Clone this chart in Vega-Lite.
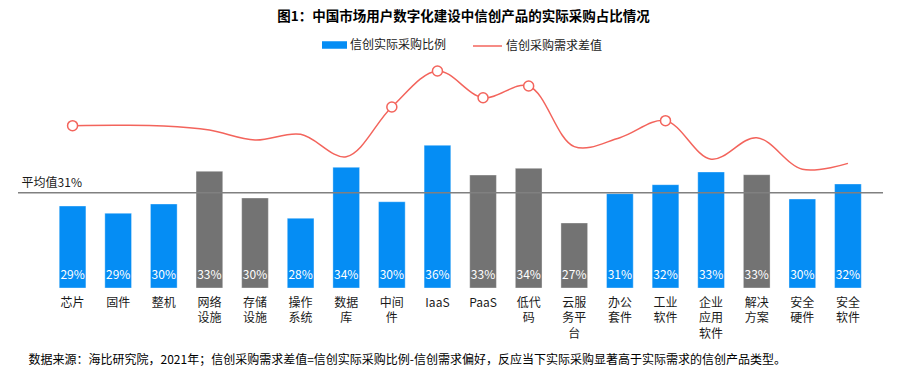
{
  "$schema": "https://vega.github.io/schema/vega-lite/v6.json",
  "width": 865,
  "height": 228,
  "autosize": {"type": "none"},
  "padding": {"left": 18, "top": 60, "right": 27, "bottom": 86},
  "background": "white",
  "config": {
    "font": "Noto Sans CJK SC",
    "view": {"stroke": null},
    "legend": {"labelFontSize": 12, "labelColor": "#1a1a1a", "labelFont": "Noto Sans CJK SC", "title": null}
  },
  "title": {
    "text": "图1：中国市场用户数字化建设中信创产品的实际采购占比情况",
    "fontSize": 13.5,
    "fontWeight": "bold",
    "color": "#000000",
    "anchor": "middle",
    "dx": 13,
    "offset": 7
  },
  "datasets": {
    "rows": [
      {"category": "芯片", "value": 29.37, "label": "29%", "group": "a", "diff": 0.68, "marked": true},
      {"category": "固件", "value": 28.54, "label": "29%", "group": "a", "diff": 0.70, "marked": false},
      {"category": "整机", "value": 29.60, "label": "30%", "group": "a", "diff": 0.66, "marked": false},
      {"category": "网络设施", "value": 33.34, "label": "33%", "group": "b", "diff": 0.39, "marked": false},
      {"category": "存储设施", "value": 30.29, "label": "30%", "group": "b", "diff": -0.26, "marked": false},
      {"category": "操作系统", "value": 27.97, "label": "28%", "group": "a", "diff": 0.11, "marked": false},
      {"category": "数据库", "value": 33.79, "label": "34%", "group": "a", "diff": -1.36, "marked": false},
      {"category": "中间件", "value": 29.86, "label": "30%", "group": "a", "diff": 1.91, "marked": true},
      {"category": "IaaS", "value": 36.31, "label": "36%", "group": "a", "diff": 4.28, "marked": true},
      {"category": "PaaS", "value": 32.91, "label": "33%", "group": "b", "diff": 2.52, "marked": true},
      {"category": "低代码", "value": 33.68, "label": "34%", "group": "b", "diff": 3.29, "marked": true},
      {"category": "云服务平台", "value": 27.43, "label": "27%", "group": "b", "diff": -0.70, "marked": false},
      {"category": "办公套件", "value": 30.78, "label": "31%", "group": "a", "diff": -0.11, "marked": false},
      {"category": "工业软件", "value": 31.81, "label": "32%", "group": "a", "diff": 1.01, "marked": true},
      {"category": "企业应用软件", "value": 33.26, "label": "33%", "group": "a", "diff": -1.53, "marked": false},
      {"category": "解决方案", "value": 32.95, "label": "33%", "group": "b", "diff": -0.11, "marked": false},
      {"category": "安全硬件", "value": 30.17, "label": "30%", "group": "a", "diff": -2.19, "marked": false},
      {"category": "安全软件", "value": 31.89, "label": "32%", "group": "a", "diff": -1.80, "marked": false}
    ]
  },
  "layer": [
    {
      "data": {"name": "rows"},
      "encoding": {
        "x": {
          "field": "category",
          "type": "nominal",
          "sort": null,
          "scale": {
            "domain": ["芯片", "固件", "整机", "网络设施", "存储设施", "操作系统", "数据库", "中间件", "IaaS", "PaaS", "低代码", "云服务平台", "办公套件", "工业软件", "企业应用软件", "解决方案", "安全硬件", "安全软件"],
            "paddingInner": 0.415,
            "paddingOuter": 0.69,
            "align": 0.655
          },
          "axis": {
            "title": "数据来源：海比研究院，2021年；信创采购需求差值=信创实际采购比例-信创需求偏好，反应当下实际采购显著高于实际需求的信创产品类型。",
            "titleFontSize": 12,
            "titleFontWeight": "normal",
            "titleColor": "#000000",
            "titleFont": "Noto Sans CJK SC",
            "titleAnchor": "start",
            "titleAlign": "left",
            "titleBaseline": "alphabetic",
            "titleX": 10,
            "titleY": 75,
            "domain": false,
            "ticks": false,
            "labelAngle": 0,
            "labelFontSize": 12,
            "labelColor": "#1a1a1a",
            "labelPadding": 9,
            "labelLineHeight": 15.5,
            "labelExpr": "test(/^[A-Za-z]+$/, datum.label) || length(datum.label) <= 2 ? datum.label : length(datum.label) <= 4 ? [substring(datum.label,0,2), substring(datum.label,2,4)] : [substring(datum.label,0,2), substring(datum.label,2,4), substring(datum.label,4,6)]"
          }
        }
      },
      "layer": [
        {
          "mark": {"type": "bar", "stroke": "white", "strokeOpacity": 0.35, "strokeWidth": 1},
          "encoding": {
            "y": {"field": "value", "type": "quantitative", "scale": {"domain": [20, 46.06], "nice": false, "zero": false}, "axis": null},
            "y2": {"datum": 20},
            "fill": {
              "field": "group",
              "type": "nominal",
              "scale": {"domain": ["a", "b"], "range": ["#058df4", "#737373"]},
              "legend": {
                "values": ["a"],
                "labelExpr": "'信创实际采购比例'",
                "orient": "none",
                "legendX": 304,
                "legendY": -27.5,
                "symbolType": "M-1,-0.3H1V0.3H-1Z",
                "symbolSize": 625,
                "symbolStrokeWidth": 0,
                "labelOffset": 3
              }
            }
          }
        },
        {
          "mark": {"type": "text", "color": "white", "fontSize": 12, "baseline": "alphabetic", "dy": -9},
          "encoding": {
            "y": {"datum": 20, "type": "quantitative"},
            "text": {"field": "label", "type": "nominal"}
          }
        }
      ]
    },
    {
      "data": {"values": [{"avg": 30.89, "text": "平均值31%"}]},
      "encoding": {
        "y": {"field": "avg", "type": "quantitative", "scale": {"domain": [20, 46.06], "nice": false, "zero": false}, "axis": null}
      },
      "layer": [
        {"mark": {"type": "rule", "color": "#808080", "strokeWidth": 1.5}},
        {
          "mark": {"type": "text", "align": "left", "baseline": "alphabetic", "dx": -51, "dy": -6, "fontSize": 12, "color": "#1a1a1a"},
          "encoding": {
            "x": {"datum": "芯片", "type": "nominal"},
            "text": {"field": "text", "type": "nominal"}
          }
        }
      ]
    },
    {
      "data": {"name": "rows"},
      "encoding": {
        "x": {"field": "category", "type": "nominal", "sort": null},
        "y": {"field": "diff", "type": "quantitative", "scale": {"domain": [-10, 5], "nice": false, "zero": false}, "axis": null}
      },
      "layer": [
        {
          "mark": {"type": "line", "interpolate": "catmull-rom", "strokeWidth": 1.5},
          "encoding": {
            "stroke": {
              "datum": "信创采购需求差值",
              "type": "nominal",
              "scale": {"range": ["#f3645c"]},
              "legend": {
                "orient": "none",
                "legendX": 454,
                "legendY": -29.5,
                "symbolType": "stroke",
                "symbolSize": 841,
                "symbolStrokeWidth": 1.5,
                "labelOffset": 3
              }
            }
          }
        },
        {
          "transform": [{"filter": "datum.marked"}],
          "mark": {"type": "point", "shape": "circle", "filled": true, "fill": "white", "stroke": "#f3645c", "strokeWidth": 1.5, "size": 100, "opacity": 1}
        }
      ]
    }
  ],
  "resolve": {"scale": {"y": "independent"}}
}
